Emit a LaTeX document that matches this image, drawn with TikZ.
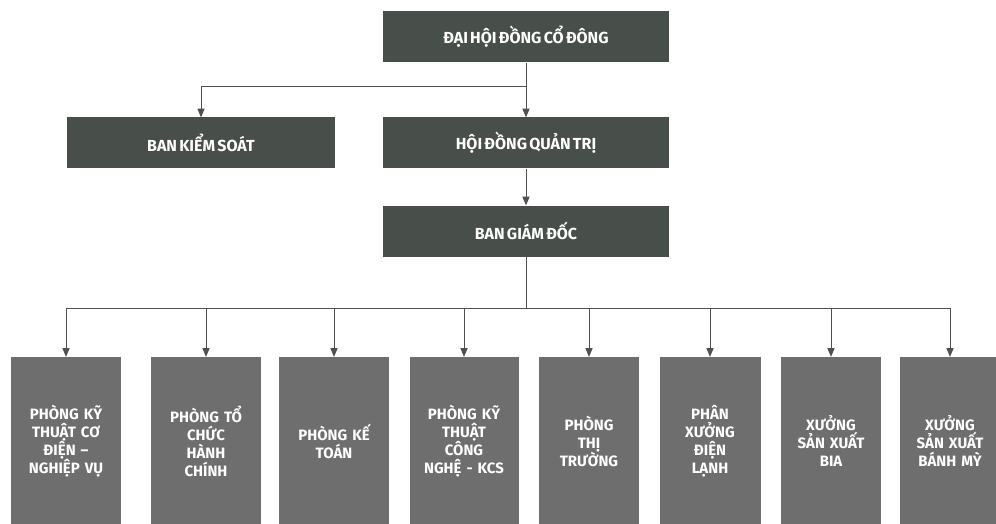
\documentclass[tikz,border=0pt]{standalone}
\usepackage{fontspec}
\setsansfont{Fira Sans}[WordSpace=0.6]
\usetikzlibrary{arrows}
\definecolor{darkbox}{RGB}{72,78,74}
\definecolor{greybox}{RGB}{110,110,110}
\definecolor{wirecol}{RGB}{80,80,80}
\tikzset{
  topbox/.style={fill=darkbox, text=white, inner sep=0pt,
    font=\sffamily\bfseries\fontsize{16}{18}\selectfont,
    minimum width=286pt, minimum height=51pt},
  unitbox/.style={fill=greybox, text=white, inner sep=0pt, align=center,
    font=\sffamily\bfseries\fontsize{15}{18}\selectfont,
    text width=#1, minimum height=168pt},
  wire/.style={draw=wirecol, line width=1pt}
}

\begin{document}
\begin{tikzpicture}[x=1pt, y=-1pt, >=triangle 45]
    \useasboundingbox (0,0) rectangle (996,524);
    \clip (0,0) rectangle (996,524);
    \fill[white] (0,0) rectangle (996,524);

    % top levels
    \node[topbox] (dhcd) at (526,37) {ĐẠI HỘI ĐỒNG CỔ ĐÔNG};
    \node[topbox, minimum width=268pt] (bks) at (201,143) {BAN KIỂM SOÁT};
    \node[topbox] (hdqt) at (526,143) {HỘI ĐỒNG QUẢN TRỊ};
    \node[topbox] (bgd) at (526,231) {BAN GIÁM ĐỐC};
    \coordinate (split) at (526,87);
    \coordinate (bus) at (526,308);

    \draw[wire, ->] (dhcd) -- (hdqt);
    \draw[wire, ->] (split) -| (bks);
    \draw[wire, ->] (hdqt) -- (bgd);
    \draw[wire] (bgd) -- (bus);

    % units
    \node[unitbox=110pt] (p1) at (66,441) {PHÒNG KỸ\\THUẬT CƠ\\ĐIỆN –\\NGHIỆP VỤ};
    \node[unitbox=110pt] (p2) at (206,441) {PHÒNG TỔ\\CHỨC\\HÀNH\\CHÍNH};
    \node[unitbox=110pt] (p3) at (334,441) {PHÒNG KẾ\\TOÁN};
    \node[unitbox=109pt] (p4) at (464,441) {PHÒNG KỸ\\THUẬT\\CÔNG\\NGHỆ - KCS};
    \node[unitbox=100pt] (p5) at (589,441) {PHÒNG\\THỊ\\TRƯỜNG};
    \node[unitbox=101pt] (p6) at (710,441) {PHÂN\\XƯỞNG\\ĐIỆN\\LẠNH};
    \node[unitbox=100pt] (p7) at (831,441) {XƯỞNG\\SẢN XUẤT\\BIA};
    \node[unitbox=100pt] (p8) at (950,441) {XƯỞNG\\SẢN XUẤT\\BÁNH MỲ};

    \draw[wire] (bus -| p1) -- (bus -| p8);
    \foreach \i in {1,...,8}
        \draw[wire, ->] (bus -| p\i) -- (p\i);
\end{tikzpicture}
\end{document}
